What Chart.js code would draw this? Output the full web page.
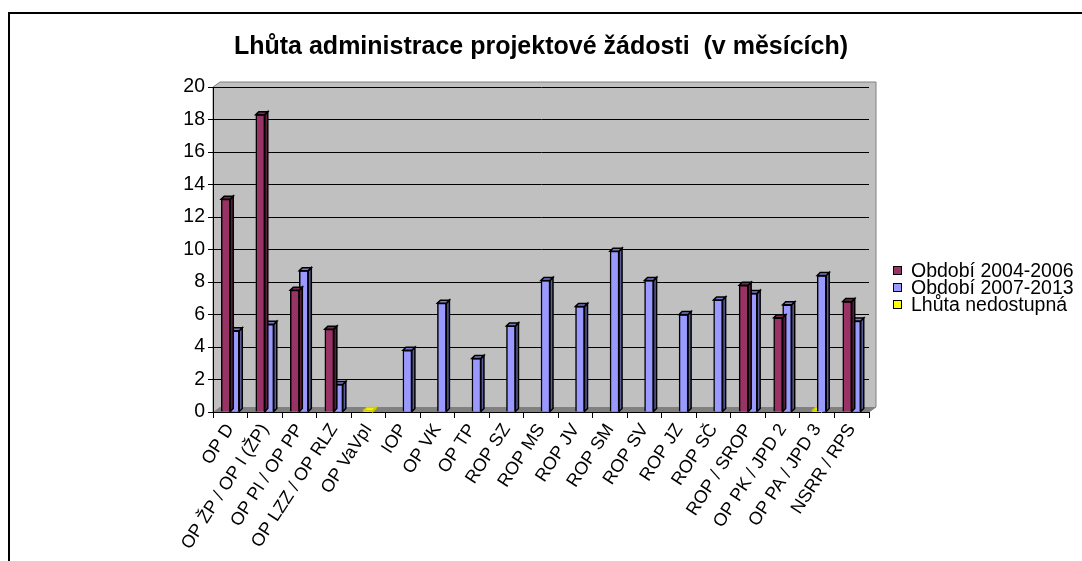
<!DOCTYPE html>
<html>
<head>
<meta charset="utf-8">
<script src="https://cdn.jsdelivr.net/npm/chart.js@4.4.1/dist/chart.umd.min.js"></script>
<style>
  html, body { margin: 0; padding: 0; background: #fff; }
  canvas { display: block; }
</style>
</head>
<body>
<canvas id="lhutaChart" width="1082" height="561"></canvas>
<script>
// Kategorie (operační programy)
const categories = ['OP D', 'OP ŽP / OP I (ŽP)', 'OP PI / OP PP', 'OP LZZ / OP RLZ', 'OP VaVpI', 'IOP', 'OP VK', 'OP TP',
  'ROP SZ', 'ROP MS', 'ROP JV', 'ROP SM', 'ROP SV', 'ROP JZ', 'ROP SČ', 'ROP / SROP', 'OP PK / JPD 2', 'OP PA / JPD 3', 'NSRR / RPS'];

// Hodnoty v měsících
const period2004 = [13.1, 18.3, 7.5, 5.1, null, null, null, null, null, null, null, null, null, null, null, 7.8, 5.8, null, 6.8];
const period2007 = [5.0, 5.4, 8.7, 1.7, null, 3.8, 6.7, 3.3, 5.3, 8.1, 6.5, 9.9, 8.1, 6.0, 6.9, 7.3, 6.6, 8.4, 5.6];
const unavailable = [null, null, null, null, 0.1, null, null, null, null, null, null, null, null, null, null, null, null, 0.1, null];

const seriesNames = ['Období 2004-2006', 'Období 2007-2013', 'Lhůta nedostupná'];
const yTicks = [0, 20, 2]; // min, max, krok

Chart.defaults.font.family = "'Liberation Sans', Arial, sans-serif";
Chart.defaults.color = '#000';

// Pozadí grafu - šedá stěna a podlaha
const wallPlugin = {
  id: 'wall',
  beforeDraw(chart) {
    const { ctx, chartArea: a } = chart;
    const d = 7, h = 5;
    ctx.save();
    ctx.fillStyle = '#c0c0c0';
    ctx.beginPath();
    ctx.moveTo(a.left, a.bottom);
    ctx.lineTo(a.left, a.top);
    ctx.lineTo(a.left + d, a.top - h);
    ctx.lineTo(a.right + d, a.top - h);
    ctx.lineTo(a.right + d, a.bottom - h);
    ctx.lineTo(a.right, a.bottom);
    ctx.closePath();
    ctx.fill();
    ctx.strokeStyle = '#808080';
    ctx.lineWidth = 1;
    ctx.stroke();

    ctx.fillStyle = '#808080';
    ctx.beginPath();
    ctx.moveTo(a.left, a.bottom);
    ctx.lineTo(a.left + d, a.bottom - h);
    ctx.lineTo(a.right + d, a.bottom - h);
    ctx.lineTo(a.right, a.bottom);
    ctx.closePath();
    ctx.fill();

    // rámeček
    ctx.strokeStyle = '#000';
    ctx.lineWidth = 2;
    ctx.beginPath();
    ctx.moveTo(9, 561);
    ctx.lineTo(9, 13);
    ctx.lineTo(1082, 13);
    ctx.stroke();
    ctx.restore();
  }
};

// 3D vzhled sloupců
const bar3dPlugin = {
  id: 'bar3d',
  afterDatasetDraw(chart, args) {
    const { ctx } = chart;
    const meta = args.meta;
    const ds = chart.data.datasets[args.index];
    const d = 3;
    ctx.save();
    ctx.strokeStyle = ds.borderWidth ? '#000' : ds.sideColor;
    ctx.lineWidth = 1.5;
    meta.data.forEach((bar, i) => {
      if (ds.data[i] === null) return;
      const { x, y, base, width } = bar.getProps(['x', 'y', 'base', 'width'], true);
      const l = x - width / 2, r = x + width / 2;
      ctx.fillStyle = ds.sideColor;
      ctx.beginPath();
      ctx.moveTo(r, y);
      ctx.lineTo(r + d, y - d);
      ctx.lineTo(r + d, base - d);
      ctx.lineTo(r, base);
      ctx.closePath();
      ctx.fill();
      ctx.stroke();
      ctx.fillStyle = ds.topColor;
      ctx.beginPath();
      ctx.moveTo(l, y);
      ctx.lineTo(l + d, y - d);
      ctx.lineTo(r + d, y - d);
      ctx.lineTo(r, y);
      ctx.closePath();
      ctx.fill();
      ctx.stroke();
    });
    ctx.restore();
  }
};

// Legenda vpravo
const legendPlugin = {
  id: 'sideLegend',
  afterDraw(chart) {
    const { ctx } = chart;
    ctx.save();
    ctx.font = "19.5px 'Liberation Sans', Arial, sans-serif";
    ctx.textBaseline = 'middle';
    chart.data.datasets.forEach((ds, i) => {
      const cy = 271 + i * 17;
      ctx.fillStyle = ds.backgroundColor;
      ctx.fillRect(893, cy - 4, 8, 8);
      ctx.strokeStyle = '#000';
      ctx.lineWidth = 1;
      ctx.strokeRect(893.5, cy - 4.5, 8, 8);
      ctx.fillStyle = '#000';
      ctx.fillText(ds.label, 911, cy + 1);
    });
    ctx.restore();
  }
};

new Chart(document.getElementById('lhutaChart'), {
  type: 'bar',
  data: {
    labels: categories,
    datasets: [
      { label: seriesNames[0], data: period2004, backgroundColor: '#993366', topColor: '#7a2850', sideColor: '#5c1e3d',
        borderColor: '#000', borderWidth: 1.5, barThickness: 9 },
      { label: seriesNames[1], data: period2007, backgroundColor: '#9999ff', topColor: '#7a7acc', sideColor: '#5c5c99',
        borderColor: '#000', borderWidth: 1.5, barThickness: 9 },
      { label: seriesNames[2], data: unavailable, backgroundColor: '#ffff00', topColor: '#ffff00', sideColor: '#cccc00',
        borderColor: '#ffff00', borderWidth: 0, barThickness: 9, grouped: false }
    ]
  },
  options: {
    responsive: false,
    animation: false,
    categoryPercentage: 0.52,
    barPercentage: 1,
    layout: { padding: { top: 20, left: 163, right: 213, bottom: 0 } },
    plugins: {
      legend: { display: false },
      tooltip: { enabled: false },
      title: {
        display: true,
        fullSize: false,
        text: 'Lhůta administrace projektové žádosti  (v měsících)',
        font: { size: 25, weight: 'bold' },
        color: '#000',
        padding: { top: 12, bottom: 25 }
      }
    },
    scales: {
      x: {
        grid: { display: true, drawOnChartArea: false, drawTicks: true, tickLength: 6, color: '#000', offset: true },
        border: { color: '#000', width: 1 },
        ticks: { font: { size: 18 }, color: '#000', minRotation: 57, maxRotation: 57, autoSkip: false, padding: 2 },
        afterFit: s => { s.height = 149; }
      },
      y: {
        min: yTicks[0],
        max: yTicks[1],
        ticks: { stepSize: yTicks[2], font: { size: 19.5 }, color: '#000', padding: 3 },
        grid: { color: '#000', lineWidth: 1, tickLength: 5 },
        border: { color: '#000', width: 1 },
        afterFit: s => { s.width = 50; }
      }
    }
  },
  plugins: [wallPlugin, bar3dPlugin, legendPlugin]
});
</script>
</body>
</html>
